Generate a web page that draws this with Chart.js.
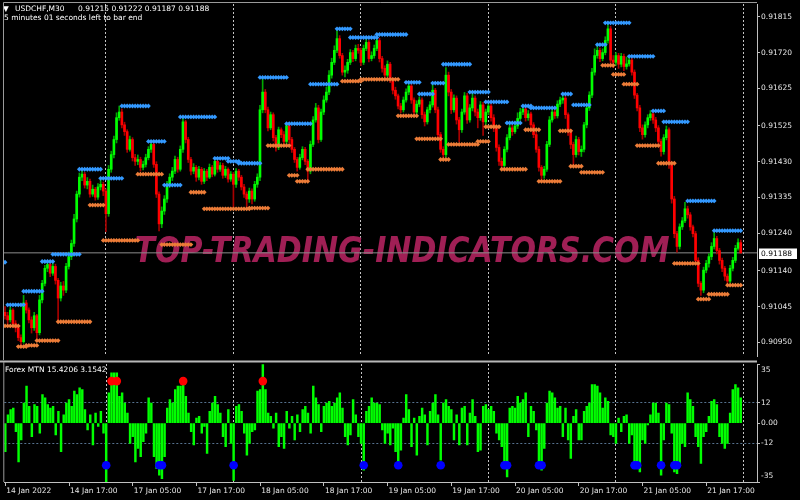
<!DOCTYPE html>
<html>
<head>
<meta charset="utf-8">
<script src="https://cdn.jsdelivr.net/npm/chart.js@4.4.1/dist/chart.umd.min.js"></script>
<style>
  html, body { margin: 0; padding: 0; background: #000; }
  #wrap { position: relative; width: 800px; height: 500px; background: #000; overflow: hidden; }
  #main { position: absolute; left: 0; top: 0; }
  #sub { position: absolute; left: 0; top: 360px; }
</style>
</head>
<body>
<div id="wrap">
  <canvas id="main" width="800" height="360"></canvas>
  <canvas id="sub" width="800" height="140"></canvas>
</div>
<script>
// USDCHF M30, prices in points above 0.90000
const days = ['14 Jan', '17 Jan', '18 Jan', '19 Jan', '20 Jan', '21 Jan'];
const firstSlot = 10; // first bar 14 Jan 05:00

const opens = [
  1030,1021,1010,1036,1000,989,963,952,1055,1036, 1010,989,1021,976,1063,1107,1147,1157,1134,1152,
  1115,1068,1100,1089,1152,1178,1213,1278,1344,1389, 1397,1368,1378,1344,1357,1336,1363,1370,1352,1292,
  1410,1449,1489,1547,1562,1528,1510,1463,1489,1441, 1431,1436,1415,1423,1441,1463,1476,1423,1344,1265,
  1299,1331,1370,1389,1405,1436,1410,1463,1536,1489, 1436,1405,1415,1389,1410,1378,1405,1389,1415,1397,
  1431,1410,1420,1394,1410,1384,1397,1370,1405,1389, 1363,1344,1331,1352,1331,1370,1389,1568,1615,1568,
  1520,1555,1494,1468,1515,1502,1484,1526,1489,1463, 1436,1415,1441,1463,1431,1405,1476,1541,1573,1489,
  1562,1594,1615,1660,1694,1726,1757,1712,1668,1673, 1694,1720,1704,1731,1726,1694,1731,1747,1704,1712,
  1731,1752,1704,1678,1660,1689,1647,1620,1605,1578, 1568,1594,1615,1631,1594,1562,1583,1594,1555,1536,
  1568,1581,1620,1568,1502,1463,1449,1660,1615,1568, 1599,1541,1515,1562,1605,1541,1573,1599,1562,1547,
  1581,1536,1562,1578,1547,1520,1468,1431,1420,1463, 1494,1520,1510,1525,1545,1562,1570,1547,1557,1528,
  1502,1463,1415,1394,1410,1476,1541,1562,1552,1583, 1594,1599,1555,1510,1476,1449,1489,1457,1463,1528,
  1573,1607,1668,1712,1726,1704,1720,1752,1783,1700, 1694,1712,1689,1710,1683,1690,1700,1668,1607,1573,
  1520,1502,1528,1547,1557,1541,1520,1484,1457,1494, 1515,1423,1331,1239,1205,1257,1273,1305,1289,1257,
  1239,1168,1107,1089,1142,1160,1178,1205,1226,1194, 1168,1147,1126,1113,1147,1168,1200,1215
];
const highs = [
  1045,1030,1044,1040,1008,995,970,1075,1062,1042, 1018,1030,1025,1075,1115,1155,1165,1162,1160,1158,
  1120,1110,1112,1160,1190,1222,1290,1352,1400,1410, 1402,1388,1384,1368,1362,1372,1382,1376,1358,1420,
  1458,1498,1560,1578,1570,1535,1515,1498,1494,1450, 1448,1442,1432,1450,1470,1484,1482,1430,1350,1310,
  1340,1378,1398,1415,1445,1442,1472,1547,1540,1495, 1442,1425,1420,1418,1415,1412,1410,1424,1420,1439,
  1436,1428,1426,1418,1414,1404,1402,1412,1410,1394, 1370,1350,1360,1358,1378,1398,1580,1650,1622,1575,
  1562,1560,1500,1522,1520,1510,1531,1530,1495,1468, 1442,1450,1470,1468,1436,1485,1550,1585,1580,1570,
  1605,1628,1672,1705,1738,1783,1765,1718,1685,1702, 1728,1726,1740,1742,1732,1740,1760,1752,1722,1740,
  1765,1758,1710,1685,1698,1694,1652,1628,1610,1585, 1602,1624,1638,1636,1600,1592,1602,1600,1562,1575,
  1590,1638,1625,1575,1508,1470,1680,1668,1622,1608, 1605,1548,1570,1614,1612,1582,1612,1605,1570,1590,
  1588,1570,1590,1584,1555,1526,1475,1440,1470,1502, 1530,1528,1532,1560,1572,1580,1575,1566,1562,1534,
  1508,1470,1420,1418,1484,1550,1572,1570,1592,1602, 1610,1605,1560,1516,1482,1498,1495,1472,1535,1582,
  1616,1678,1730,1738,1732,1730,1762,1800,1790,1712, 1720,1718,1718,1716,1708,1710,1705,1674,1612,1580,
  1528,1536,1555,1566,1562,1548,1526,1490,1502,1525, 1520,1430,1338,1245,1265,1282,1322,1312,1295,1262,
  1245,1175,1112,1150,1168,1186,1215,1242,1232,1200, 1174,1152,1132,1155,1176,1208,1225,1222
];
const lows = [
  1012,1000,1004,992,978,955,944,948,1028,1002, 975,982,960,970,1055,1100,1138,1125,1128,1105,
  1008,1060,1075,1082,1145,1170,1205,1270,1336,1380, 1360,1358,1336,1338,1328,1330,1355,1340,1244,1285,
  1402,1440,1480,1540,1520,1500,1455,1458,1432,1420, 1422,1405,1408,1416,1435,1455,1415,1335,1246,1255,
  1290,1322,1362,1380,1398,1402,1405,1455,1480,1428, 1395,1398,1378,1382,1370,1372,1380,1385,1390,1392,
  1402,1404,1386,1388,1376,1378,1305,1362,1380,1355, 1335,1310,1322,1318,1325,1362,1380,1560,1560,1512,
  1515,1485,1458,1462,1494,1475,1478,1480,1455,1428, 1405,1410,1435,1422,1378,1398,1470,1535,1480,1484,
  1555,1588,1608,1652,1688,1720,1705,1660,1655,1665, 1688,1696,1698,1718,1685,1688,1725,1695,1698,1705,
  1725,1695,1668,1650,1655,1640,1610,1596,1570,1560, 1562,1588,1608,1585,1555,1556,1576,1545,1525,1530,
  1560,1575,1560,1495,1455,1436,1442,1605,1558,1562, 1530,1483,1508,1556,1532,1535,1565,1552,1520,1540,
  1500,1528,1555,1538,1510,1458,1420,1410,1415,1456, 1488,1500,1505,1518,1540,1555,1538,1540,1520,1494,
  1455,1405,1380,1386,1404,1470,1535,1545,1546,1576, 1585,1545,1500,1465,1420,1442,1448,1444,1456,1520,
  1566,1600,1660,1705,1696,1698,1714,1745,1690,1680, 1686,1678,1682,1672,1676,1684,1660,1598,1565,1510,
  1490,1495,1520,1540,1532,1510,1475,1445,1450,1488, 1412,1320,1228,1190,1198,1250,1268,1280,1248,1230,
  1160,1098,1075,1082,1135,1150,1170,1198,1185,1158, 1138,1115,1103,1108,1140,1162,1195,1187
];
const closes = [
  1021,1010,1036,1000,989,963,952,1055,1036,1010, 989,1021,976,1063,1107,1147,1157,1134,1152,1115,
  1068,1100,1089,1152,1178,1213,1278,1344,1389,1397, 1368,1378,1344,1357,1336,1363,1370,1352,1292,1410,
  1449,1489,1547,1562,1528,1510,1463,1489,1441,1431, 1436,1415,1423,1441,1463,1476,1423,1344,1265,1299,
  1331,1370,1389,1405,1436,1410,1463,1536,1489,1436, 1405,1415,1389,1410,1378,1405,1389,1415,1397,1431,
  1410,1420,1394,1410,1384,1397,1370,1405,1389,1363, 1344,1331,1352,1331,1370,1389,1568,1615,1568,1520,
  1555,1494,1468,1515,1502,1484,1526,1489,1463,1436, 1415,1441,1463,1431,1405,1476,1541,1573,1489,1562,
  1594,1615,1660,1694,1726,1757,1712,1668,1673,1694, 1720,1704,1731,1726,1694,1731,1747,1704,1712,1731,
  1752,1704,1678,1660,1689,1647,1620,1605,1578,1568, 1594,1615,1631,1594,1562,1583,1594,1555,1536,1568,
  1581,1620,1568,1502,1463,1449,1660,1615,1568,1599, 1541,1515,1562,1605,1541,1573,1599,1562,1547,1581,
  1536,1562,1578,1547,1520,1468,1431,1420,1463,1494, 1520,1510,1525,1545,1562,1570,1547,1557,1528,1502,
  1463,1415,1394,1410,1476,1541,1562,1552,1583,1594, 1599,1555,1510,1476,1449,1489,1457,1463,1528,1573,
  1607,1668,1712,1726,1704,1720,1752,1783,1700,1694, 1712,1689,1710,1683,1690,1700,1668,1607,1573,1520,
  1502,1528,1547,1557,1541,1520,1484,1457,1494,1515, 1423,1331,1239,1205,1257,1273,1305,1289,1257,1239,
  1168,1107,1089,1142,1160,1178,1205,1226,1194,1168, 1147,1126,1113,1147,1168,1200,1215,1188
];

// resistance / support levels: [first bar, last bar, price]
const blueLevels = [
  [0,0,1163],[1,7,1050],[7,14,1086],[14,18,1165],[18,28,1184],[28,36,1410],[36,44,1386],[44,54,1578],
  [54,60,1484],[60,66,1368],[66,79,1549],[79,84,1439],[84,88,1431],[88,96,1426],[96,106,1654],[106,115,1531],
  [115,125,1636],[125,130,1783],[130,140,1760],[140,151,1768],[151,156,1641],[156,161,1610],[161,165,1639],
  [165,175,1689],[175,182,1615],[181,189,1589],[189,194,1533],[195,198,1578],[198,207,1573],[210,213,1610],
  [214,220,1581],[223,226,1741],[226,235,1799],[235,244,1710],[244,248,1565],[248,257,1536],[257,267,1326],
  [267,277,1247]
];
const orangeLevels = [
  [0,5,994],[5,8,939],[8,12,942],[12,20,955],[20,32,1005],[32,37,1315],[37,50,1221],[50,59,1397],
  [59,70,1210],[70,75,1349],[75,92,1305],[92,99,1307],[99,107,1473],[107,110,1394],[110,114,1378],
  [114,127,1410],[127,134,1644],[134,148,1649],[148,155,1552],[155,164,1491],[164,167,1436],[167,178,1476],
  [178,182,1484],[181,186,1523],[187,196,1410],[196,201,1515],[201,209,1378],[209,213,1512],[213,217,1418],
  [217,225,1402],[225,229,1686],[229,233,1662],[233,238,1636],[238,246,1473],[246,252,1426],[252,261,1160],
  [261,265,1065],[265,272,1078],[272,277,1102]
];

// Forex MTN histogram
const mtnValues = [
  -17,5,8,9,-5,-23,-10,12,22,10, -8,11,10,-6,17,15,11,9,10,-7,
  7,-17,5,12,14,10,19,17,21,20, 8,-4,5,-13,6,-2,7,-6,-35,18,
  30,30,30,16,18,12,6,-12,-8,-23, -15,-20,-11,-6,15,12,-20,-27,-31,-33,
  -20,9,14,12,20,22,22,23,16,6, -5,-13,3,4,-6,-2,-18,7,12,16,
  11,6,-8,-14,8,-12,-34,10,11,7, -6,-19,-12,-5,-4,19,20,35,20,6,
  4,-3,6,-14,-8,-15,7,-3,4,-10, 5,-5,8,10,6,-6,22,15,11,-5,
  10,12,13,10,12,15,18,9,-8,-13, -7,14,5,-8,-12,-28,7,10,15,12,
  12,11,-4,-12,-6,-13,-3,-17,-25,-16, 3,17,8,-14,3,-19,4,9,5,-13,
  7,12,17,5,-22,12,14,10,8,-10, 5,-13,9,10,-13,6,14,4,-17,-16,
  10,11,8,10,7,-6,-10,-14,-26,-32, 9,10,9,16,12,14,18,-8,10,7,
  -4,-23,-28,-15,12,19,18,15,9,10, -8,9,-10,-21,4,8,-10,-10,7,10,
  12,23,23,22,18,9,15,13,-7,-8, -12,3,-5,4,5,-12,-7,-25,-27,-29,
  -10,-12,-1,5,12,12,6,-31,-10,12, 11,-6,-29,-30,-25,-12,-14,18,14,10,
  -8,-14,-24,-8,-5,4,13,14,11,-8, -12,-15,-12,6,20,23,21,15
];
const redDots = [40, 42, 67, 97];
const blueDots = [38, 58, 59, 86, 135, 148, 164, 188, 189, 201, 202, 237, 238, 247, 252, 253];
const dotLevel = 25;

const priceTicks = [0.91815, 0.91720, 0.91625, 0.91525, 0.91430, 0.91335, 0.91240, 0.91140, 0.91045, 0.90950];
const mtnTicks = [35, 12, 0, -12, -35];
const xTickIdx = [0, 24, 48, 72, 96, 120, 144, 168, 192, 216, 240, 264];

const FONT = 'DejaVu Sans';
const X_MIN = -0.375, X_MAX = 283.125;
const AXIS_W = 43;

const price = v => 0.9 + v / 100000;
const last = closes.length - 1;
const bid = price(closes[last]);

const times = [];
days.forEach((d, k) => {
  for (let s = k ? 0 : firstSlot; s < 48; s++) {
    times.push(d + ' ' + String(Math.floor(s / 2)).padStart(2, '0') + ':' + (s % 2 ? '30' : '00'));
  }
});
const separators = [];
times.forEach((t, i) => { if (i && t.slice(0, 6) !== times[i - 1].slice(0, 6)) separators.push(i); });
separators.push(times.length);

const isUp = opens.map((o, i) => closes[i] >= o);
const wickData = highs.map((h, i) => ({ x: i, y: [price(lows[i]), price(h)] }));
const bodyData = opens.map((o, i) => ({ x: i, y: [price(o), price(closes[i])] }));

function levelPoints(levels) {
  const out = [];
  levels.forEach(([s, e, p]) => { for (let i = s; i <= e; i++) out.push({ x: i, y: price(p) }); });
  return out;
}

// window borders, MT4 style
const mainFrame = {
  id: 'mainFrame',
  afterDraw(chart) {
    const { ctx, chartArea: a } = chart;
    ctx.save();
    ctx.strokeStyle = '#9a9a9a';
    ctx.lineWidth = 1;
    ctx.beginPath();
    ctx.moveTo(a.left - 0.5, chart.height);
    ctx.lineTo(a.left - 0.5, a.top - 1.5);
    ctx.lineTo(a.right, a.top - 1.5);
    ctx.stroke();
    ctx.restore();
  }
};
const subFrame = {
  id: 'subFrame',
  afterDraw(chart) {
    const { ctx, chartArea: a } = chart;
    ctx.save();
    ctx.fillStyle = '#b8b8b8';
    ctx.fillRect(0, 0.5, a.right, 2);
    ctx.strokeStyle = '#9a9a9a';
    ctx.lineWidth = 1;
    ctx.beginPath();
    ctx.moveTo(a.left - 0.5, 2);
    ctx.lineTo(a.left - 0.5, a.bottom);
    ctx.stroke();
    ctx.restore();
  }
};

const mainDecor = {
  id: 'mainDecor',
  beforeDatasetsDraw(chart) {
    const { ctx } = chart;
    const txt = 'TOP-TRADING-INDICATORS.COM';
    ctx.save();
    ctx.font = 'italic bold 36px "' + FONT + '"';
    const w = ctx.measureText(txt).width;
    ctx.translate(402, 262);
    ctx.scale(535 / w, 1);
    ctx.fillStyle = '#a01f55';
    ctx.textAlign = 'center';
    ctx.textBaseline = 'alphabetic';
    ctx.fillText(txt, 0, 0);
    ctx.restore();
  },
  afterDraw(chart) {
    const { ctx } = chart;
    const y = chart.scales.y.getPixelForValue(bid);
    ctx.save();
    ctx.fillStyle = '#ffffff';
    ctx.fillRect(759, Math.round(y) - 4.5, 38, 10.5);
    ctx.fillStyle = '#000000';
    ctx.font = '7.5px "' + FONT + '"';
    ctx.textBaseline = 'middle';
    ctx.fillText(bid.toFixed(5), 761, Math.round(y) + 1);

    ctx.fillStyle = '#ffffff';
    ctx.fillText('\u25BC', 3, 9);
    ctx.fillText('USDCHF,M30', 15, 9);
    const ohlc = [opens[last], highs[last], lows[last], closes[last]].map(v => price(v).toFixed(5)).join(' ');
    ctx.fillText(ohlc, 78, 9);
    ctx.fillText('5 minutes 01 seconds left to bar end', 4, 18.5);
    ctx.restore();
  }
};

const subDecor = {
  id: 'subDecor',
  afterDraw(chart) {
    const { ctx } = chart;
    ctx.save();
    ctx.fillStyle = '#ffffff';
    ctx.font = '7.5px "' + FONT + '"';
    ctx.textBaseline = 'middle';
    ctx.fillText('Forex MTN 15.4206 3.1542', 5, 10);
    ctx.restore();
  }
};

new Chart(document.getElementById('main'), {
  type: 'bar',
  data: {
    datasets: [
      { type: 'line', data: [{ x: X_MIN, y: bid }, { x: X_MAX, y: bid }], borderColor: '#8c8c8c',
        borderWidth: 1, pointRadius: 0, order: 5 },
      { data: wickData, backgroundColor: isUp.map(u => u ? '#00a800' : '#a80000'),
        barThickness: 1, grouped: false, order: 4 },
      { data: bodyData, backgroundColor: isUp.map(u => u ? '#00ff00' : '#ff0000'),
        barThickness: 2, minBarLength: 1, grouped: false, order: 3 },
      { type: 'scatter', data: levelPoints(orangeLevels), pointStyle: 'rectRot', pointRadius: 2.4,
        backgroundColor: '#ec7c38', borderWidth: 0, order: 1 },
      { type: 'scatter', data: levelPoints(blueLevels), pointStyle: 'rectRot', pointRadius: 2.4,
        backgroundColor: '#3399ff', borderWidth: 0, order: 1 }
    ]
  },
  options: {
    responsive: false, animation: false, devicePixelRatio: 1,
    layout: { padding: { left: 1, top: 3, right: 0, bottom: 0 } },
    plugins: { legend: { display: false }, tooltip: { enabled: false } },
    scales: {
      x: {
        type: 'linear', min: X_MIN, max: X_MAX, offset: false,
        afterBuildTicks: a => { a.ticks = separators.map(v => ({ value: v })); },
        afterFit: a => { a.height = 0; a.paddingLeft = 0; a.paddingRight = 0; },
        ticks: { display: false },
        grid: { offset: false, drawTicks: false, color: '#c4c4c4', lineWidth: 1 },
        border: { display: false, dash: [2, 2] }
      },
      y: {
        position: 'right', min: 0.90914, max: 0.91849,
        afterBuildTicks: a => { a.ticks = priceTicks.map(v => ({ value: v })); },
        afterFit: a => { a.width = AXIS_W; a.paddingTop = 0; a.paddingBottom = 0; },
        ticks: { color: '#e6e6e6', padding: 1, font: { family: FONT, size: 7.5 }, callback: v => v.toFixed(5) },
        grid: { drawOnChartArea: false, tickLength: 3, color: '#c0c0c0' },
        border: { display: true, color: '#c0c0c0' }
      }
    }
  },
  plugins: [mainDecor, mainFrame]
});

new Chart(document.getElementById('sub'), {
  type: 'bar',
  data: {
    datasets: [
      { data: mtnValues.map((v, i) => ({ x: i, y: v })), backgroundColor: '#00ff00',
        barThickness: 1.8, grouped: false, order: 2 },
      { type: 'scatter', data: redDots.map(i => ({ x: i, y: dotLevel })), pointRadius: 4.3,
        backgroundColor: '#ff0000', borderWidth: 0, order: 0 },
      { type: 'scatter', data: blueDots.map(i => ({ x: i, y: -dotLevel })), pointRadius: 4.3,
        backgroundColor: '#0000ff', borderWidth: 0, order: 0 }
    ]
  },
  options: {
    responsive: false, animation: false, devicePixelRatio: 1,
    layout: { padding: { left: 1, top: 3, right: 0, bottom: 0 } },
    plugins: { legend: { display: false }, tooltip: { enabled: false } },
    scales: {
      x: {
        type: 'linear', position: 'bottom', min: X_MIN, max: X_MAX, offset: false,
        afterBuildTicks: a => { a.ticks = xTickIdx.map(v => ({ value: v })); },
        afterFit: a => { a.height = 18; a.paddingLeft = 0; a.paddingRight = 0; },
        ticks: {
          color: '#e6e6e6', font: { family: FONT, size: 7.5 }, align: 'start', labelOffset: 1,
          padding: 1, maxRotation: 0, autoSkip: false,
          callback: v => v === 0 ? times[0].slice(0, 6) + ' 2022' : times[v]
        },
        grid: { offset: false, drawOnChartArea: false, tickLength: 4, color: '#c0c0c0' },
        border: { display: true, color: '#c0c0c0' }
      },
      xSep: {
        type: 'linear', position: 'top', min: X_MIN, max: X_MAX, offset: false,
        afterBuildTicks: a => { a.ticks = separators.map(v => ({ value: v })); },
        afterFit: a => { a.height = 0; a.paddingLeft = 0; a.paddingRight = 0; },
        ticks: { display: false },
        grid: { offset: false, drawTicks: false, color: '#c4c4c4' },
        border: { display: false, dash: [2, 2] }
      },
      y: {
        position: 'right', min: -35, max: 35,
        afterBuildTicks: a => { a.ticks = mtnTicks.map(v => ({ value: v })); },
        afterFit: a => { a.width = AXIS_W; a.paddingTop = 0; a.paddingBottom = 0; },
        ticks: {
          color: '#e6e6e6', padding: 1, font: { family: FONT, size: 7.5, lineHeight: 1.6 },
          callback: v => v === 35 ? ['', '35'] : v === -35 ? ['-35', ''] : v === 0 ? '0.00' : String(v)
        },
        grid: {
          color: c => Math.abs(c.tick.value) === 12 ? '#56728f' : 'rgba(0,0,0,0)',
          tickColor: '#c0c0c0', tickLength: 3
        },
        border: { display: true, color: '#c0c0c0', dash: [2, 2] }
      }
    }
  },
  plugins: [subDecor, subFrame]
});
</script>
</body>
</html>
